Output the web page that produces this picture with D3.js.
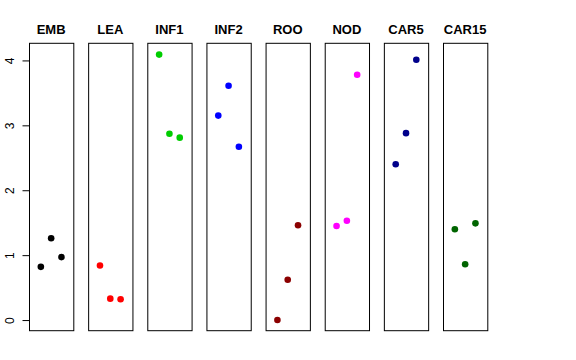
<!DOCTYPE html>
<html>
<head>
<meta charset="utf-8">
<script src="https://cdn.jsdelivr.net/npm/d3@7"></script>
<style>
  body { margin: 0; background: #fff; }
  svg { display: block; font-family: "Liberation Sans", Arial, sans-serif; }
</style>
</head>
<body>
<svg id="chart"></svg>
<script>
// panels, in drawing order
const panels = ["EMB", "LEA", "INF1", "INF2", "ROO", "NOD", "CAR5", "CAR15"];
const colors = ["#000000", "#FF0000", "#00CD00", "#0000FF", "#8B0000", "#FF00FF", "#00008B", "#006400"];
// three replicate values per panel (x = 1, 2, 3)
const values = [
    [0.82, 1.26, 0.97],
    [0.84, 0.33, 0.32],
    [4.09, 2.87, 2.81],
    [3.15, 3.61, 2.67],
    [0.00, 0.62, 1.46],
    [1.45, 1.53, 3.78],
    [2.40, 2.88, 4.01],
    [1.40, 0.86, 1.49]
];
const yTicks = [0, 1, 2, 3, 4];

const width = 576, height = 360;
const svg = d3.select("#chart").attr("width", width).attr("height", height);

const panelScale = d3.scaleBand()
    .domain(panels)
    .range([29, 487.3])
    .paddingInner(0.251)
    .paddingOuter(0);

const yScale = d3.scaleLinear()
    .domain([-0.164, 4.264])
    .range([330.7, 43.3]);

const xInner = d3.scaleLinear()
    .domain([-0.15, 4.15])
    .range([0, panelScale.bandwidth()]);

const g = svg.selectAll("g.panel")
    .data(panels)
    .join("g")
    .attr("class", "panel")
    .attr("transform", d => `translate(${panelScale(d)},0)`);

g.append("rect")
    .attr("x", 0.5)
    .attr("y", yScale.range()[1])
    .attr("width", panelScale.bandwidth())
    .attr("height", yScale.range()[0] - yScale.range()[1])
    .attr("fill", "none")
    .attr("stroke", "#000")
    .attr("stroke-width", 1);

g.append("text")
    .attr("x", panelScale.bandwidth() / 2)
    .attr("y", 34)
    .attr("text-anchor", "middle")
    .style("font-size", "13px")
    .style("font-weight", "bold")
    .text(d => d);

g.selectAll("circle")
    .data((d, i) => values[i].map((v, j) => ({x: j + 1, v: v, c: colors[i]})))
    .join("circle")
    .attr("cx", d => xInner(d.x))
    .attr("cy", d => yScale(d.v))
    .attr("r", 3.3)
    .attr("fill", d => d.c);

// y axis on the first panel only
const yAxis = svg.append("g")
    .attr("transform", `translate(${panelScale(panels[0]) + 0.5},0)`)
    .call(d3.axisLeft(yScale).tickValues(yTicks).tickFormat(d3.format("d")).tickSize(7).tickSizeOuter(0));

yAxis.select(".domain").remove();
yAxis.selectAll(".tick line").attr("stroke", "#000");
yAxis.selectAll(".tick text")
    .attr("x", 0)
    .attr("dy", 0)
    .attr("transform", "translate(-15.5,0) rotate(-90)")
    .attr("text-anchor", "middle")
    .style("font-size", "12px")
    .style("font-family", "Liberation Sans, Arial, sans-serif")
    .attr("fill", "#000");
</script>
</body>
</html>
